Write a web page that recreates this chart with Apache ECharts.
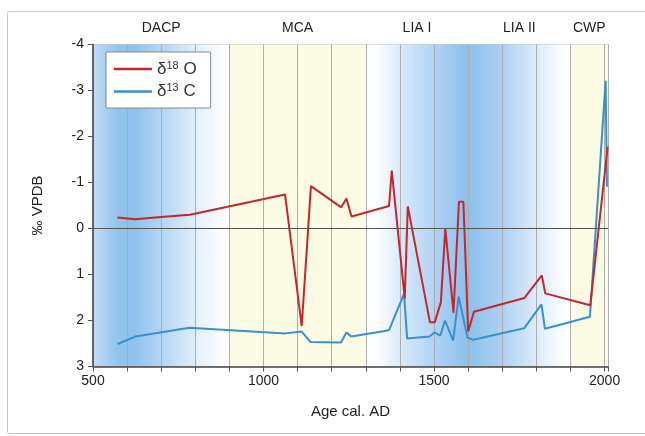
<!DOCTYPE html>
<html>
<head>
<meta charset="utf-8">
<script src="https://cdn.jsdelivr.net/npm/echarts@6/dist/echarts.min.js"></script>
<style>
  html, body { margin: 0; padding: 0; background: #ffffff; }
  #chart { width: 645px; height: 436px; }
</style>
</head>
<body>
<div id="chart"></div>
<script>
// Oxygen isotope record (per mil VPDB) against calibrated age
const yearsO = [572, 624, 700, 784, 1063, 1112, 1139, 1228, 1243, 1258, 1368, 1376, 1414, 1423, 1488, 1502, 1520, 1533, 1557, 1573, 1586, 1600, 1617, 1765, 1816, 1826, 1958, 2009];
const d18O   = [-0.24, -0.20, -0.25, -0.30, -0.74, 2.12, -0.92, -0.46, -0.65, -0.26, -0.49, -1.26, 1.52, -0.48, 2.04, 2.04, 1.60, 0.00, 1.83, -0.58, -0.58, 2.24, 1.81, 1.51, 1.02, 1.41, 1.67, -1.78];

// Carbon isotope record
const yearsC = [572, 624, 783, 1064, 1112, 1138, 1227, 1243, 1258, 1368, 1412, 1421, 1487, 1501, 1518, 1532, 1556, 1572, 1598, 1615, 1764, 1815, 1825, 1957, 2003, 2007];
const d13C   = [2.51, 2.35, 2.16, 2.28, 2.24, 2.47, 2.48, 2.26, 2.35, 2.21, 1.42, 2.39, 2.35, 2.26, 2.33, 2.00, 2.44, 1.48, 2.37, 2.42, 2.17, 1.65, 2.18, 1.92, -3.21, -0.91];

// Climate periods
const periodNames = ['DACP', 'MCA', 'LIA I', 'LIA II', 'CWP'];
const periodStart = [500, 900, 1300, 1600, 1900];
const periodEnd   = [900, 1300, 1600, 1900, 2010];

const xTickLabels = [500, 1000, 1500, 2000];

const FONT = 'Liberation Sans, Arial, sans-serif';
const grad = (stops) => new echarts.graphic.LinearGradient(0, 0, 1, 0,
  stops.map(s => ({ offset: s[0], color: s[1] })));

const yellow = '#fcfce4';
const bandFills = [
  grad([[0, '#c4def6'], [0.18, '#93c4ee'], [0.3, '#8fc2ed'], [0.55, '#bcdaf5'], [0.78, '#e6f1fc'], [0.97, '#ffffff'], [1, '#ffffff']]),
  yellow,
  grad([[0, '#ffffff'], [0.12, '#fbfdff'], [0.35, '#d7e9fa'], [0.7, '#add1f3'], [1, '#8cc0ec']]),
  grad([[0, '#8cc0ec'], [0.3, '#a9cff2'], [0.65, '#d9eafa'], [0.92, '#fbfdff'], [1, '#ffffff']]),
  yellow
];

const bandData = periodNames.map((name, i) => [
  { name: name, xAxis: periodStart[i], itemStyle: { color: bandFills[i] } },
  { xAxis: periodEnd[i] }
]);

const supName = {
  'd18O': '{g|δ}{s|18}{g| O}',
  'd13C': '{g|δ}{s|13}{g| C}'
};

const chart = echarts.init(document.getElementById('chart'), null, { renderer: 'canvas' });

chart.setOption({
  animation: false,
  backgroundColor: '#ffffff',
  textStyle: { fontFamily: FONT },
  graphic: [{
    type: 'rect',
    z: -10,
    shape: { x: 7.5, y: 11.5, width: 700, height: 422, r: 2 },
    style: { fill: '#ffffff', stroke: '#c6c6c6', lineWidth: 1 }
  }],
  grid: {
    left: 93, right: 37, top: 44.5, bottom: 69.5,
    show: true, borderColor: '#c4c4c4', borderWidth: 1, backgroundColor: 'transparent'
  },
  legend: {
    data: ['d18O', 'd13C'],
    orient: 'vertical',
    left: 106, top: 52,
    width: 107,
    padding: [8, 14, 8, 8],
    itemGap: 5,
    icon: 'rect',
    itemWidth: 38, itemHeight: 2.5,
    backgroundColor: '#ffffff',
    borderColor: '#888888', borderWidth: 1, borderRadius: 0,
    formatter: (n) => supName[n],
    textStyle: {
      color: '#333',
      rich: {
        g: { fontSize: 17, fontFamily: FONT, color: '#333', lineHeight: 18 },
        s: { fontSize: 11, fontFamily: FONT, color: '#333', verticalAlign: 'top', lineHeight: 18 }
      }
    }
  },
  xAxis: {
    type: 'value',
    min: 500, max: 2010, interval: 100,
    z: 2,
    name: 'Age cal. AD',
    nameLocation: 'middle',
    nameGap: 38,
    nameTextStyle: { fontSize: 15, color: '#222', fontFamily: FONT },
    axisLine: { onZero: false, lineStyle: { color: '#444', width: 1.5 } },
    axisTick: { show: true, length: 5, lineStyle: { color: '#555' } },
    axisLabel: {
      fontSize: 14, color: '#222', margin: 8,
      formatter: (v) => (xTickLabels.indexOf(v) >= 0 ? String(v) : '')
    },
    splitLine: { show: true, lineStyle: { color: '#adadad', width: 1 } }
  },
  yAxis: {
    type: 'value',
    inverse: true,
    min: -4, max: 3, interval: 1,
    z: 2,
    name: '‰ VPDB',
    nameLocation: 'middle',
    nameGap: 48,
    nameRotate: 90,
    nameTextStyle: { fontSize: 15, color: '#222', fontFamily: FONT },
    axisLine: { show: true, lineStyle: { color: '#444', width: 1.5 } },
    axisTick: { show: true, length: 5, lineStyle: { color: '#555' } },
    axisLabel: { fontSize: 14, color: '#222', margin: 9 },
    splitLine: { show: false }
  },
  series: [
    {
      name: 'periods',
      type: 'line',
      z: 1,
      data: [],
      silent: true,
      markArea: {
        silent: true,
        label: {
          show: true, position: 'top', distance: 9,
          fontSize: 14, color: '#222', fontFamily: FONT
        },
        data: bandData
      },
      markLine: {
        silent: true, symbol: 'none',
        label: { show: false },
        lineStyle: { color: '#555', width: 1, type: 'solid' },
        data: [{ yAxis: 0 }]
      }
    },
    {
      name: 'd18O',
      type: 'line',
      z: 4,
      symbol: 'none',
      lineStyle: { color: '#c1272d', width: 2 },
      itemStyle: { color: '#c1272d' },
      data: yearsO.map((x, i) => [x, d18O[i]])
    },
    {
      name: 'd13C',
      type: 'line',
      z: 3,
      symbol: 'none',
      lineStyle: { color: '#3a8fd0', width: 2 },
      itemStyle: { color: '#3a8fd0' },
      data: yearsC.map((x, i) => [x, d13C[i]])
    }
  ]
});
</script>
</body>
</html>
